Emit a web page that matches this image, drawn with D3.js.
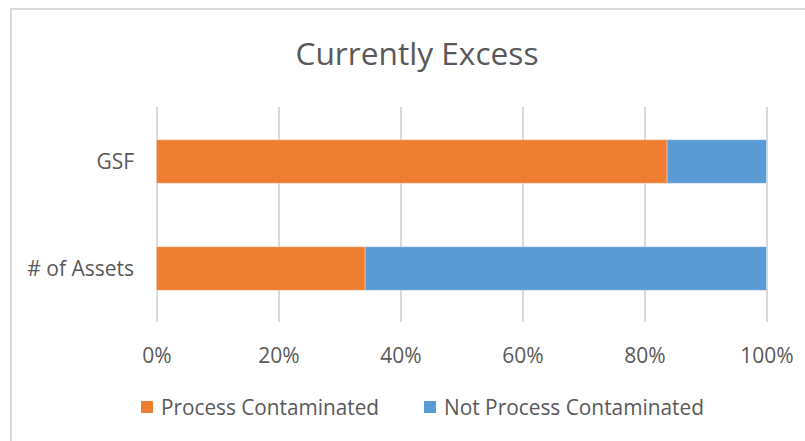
<!DOCTYPE html>
<html>
<head>
<meta charset="utf-8">
<script src="https://cdn.jsdelivr.net/npm/d3@7"></script>
<style>
  html, body { margin: 0; padding: 0; background: #ffffff; }
  svg { display: block; }
</style>
</head>
<body>
<svg id="chart" width="805" height="441"></svg>
<script>
const title = "Currently Excess";
const categories = ["GSF", "# of Assets"];
const seriesNames = ["Process Contaminated", "Not Process Contaminated"];
const processContaminated = [0.837, 0.342];
const notProcessContaminated = [0.163, 0.658];
const tickValues = [0, 0.2, 0.4, 0.6, 0.8, 1.0];
const colors = ["#ED7D31", "#5B9BD5"];

const svg = d3.select("#chart");
const W = 805, H = 441;
const textColor = "#595959";
const font = "'Open Sans', 'Noto Sans', sans-serif";

// chart border (cropped on right and bottom)
svg.append("rect")
  .attr("x", 11).attr("y", 9)
  .attr("width", W + 20).attr("height", H + 20)
  .attr("fill", "#fff")
  .attr("stroke", "#d9d9d9").attr("stroke-width", 2);

// title
svg.append("text")
  .attr("x", 417).attr("y", 65)
  .attr("text-anchor", "middle")
  .attr("font-family", font)
  .attr("font-size", 31)
  .attr("fill", textColor)
  .attr("textLength", 243)
  .attr("lengthAdjust", "spacingAndGlyphs")
  .text(title);

const x = d3.scaleLinear().domain([0, 1]).range([156.5, 766.5]);
const y = d3.scaleBand().domain(categories).range([108, 322])
  .paddingInner(0.593).paddingOuter(0.2965);

// gridlines via axis
const gridAxis = d3.axisBottom(x).tickValues(tickValues).tickSize(-(322 - 107)).tickFormat("");
const g = svg.append("g").attr("transform", "translate(0,322)").call(gridAxis);
g.select(".domain").remove();
g.selectAll(".tick line").attr("stroke", "#d9d9d9").attr("stroke-width", 2);

// tick labels via axis
const labelAxis = d3.axisBottom(x).tickValues(tickValues).tickSize(0).tickPadding(0)
  .tickFormat(d3.format(".0%"));
const gl = svg.append("g").attr("transform", "translate(0,363)").call(labelAxis);
gl.select(".domain").remove();
gl.selectAll(".tick text")
  .attr("dy", 0)
  .attr("font-family", font).attr("font-size", 21).attr("fill", textColor);

// category labels
const yAxis = d3.axisLeft(y).tickSize(0).tickPadding(0);
const gy = svg.append("g").attr("transform", "translate(134,0)").call(yAxis);
gy.select(".domain").remove();
gy.selectAll(".tick text")
  .attr("dy", "0.35em")
  .attr("font-family", font).attr("font-size", 21).attr("fill", textColor);

// stacked bars
const rows = categories.map((c, i) => ({ cat: c, a: processContaminated[i], b: notProcessContaminated[i] }));
const stack = d3.stack().keys(["a", "b"])(rows);
svg.append("g").selectAll("g").data(stack).join("g")
  .attr("fill", (d, i) => colors[i])
  .selectAll("rect").data(d => d).join("rect")
  .attr("x", d => x(d[0]))
  .attr("y", d => y(d.data.cat))
  .attr("width", d => x(d[1]) - x(d[0]))
  .attr("height", y.bandwidth())
  .attr("stroke", "rgba(255,255,255,0.35)")
  .attr("stroke-width", 1);

// legend
const legendX = [141, 424];
const legendW = [218, 260];
const lg = svg.append("g");
seriesNames.forEach((name, i) => {
  lg.append("rect")
    .attr("x", legendX[i]).attr("y", 401)
    .attr("width", 12).attr("height", 12)
    .attr("fill", colors[i]);
  lg.append("text")
    .attr("x", legendX[i] + 20).attr("y", 415)
    .attr("font-family", font).attr("font-size", 21).attr("fill", textColor)
    .attr("textLength", legendW[i])
    .attr("lengthAdjust", "spacingAndGlyphs")
    .text(name);
});
</script>
</body>
</html>
